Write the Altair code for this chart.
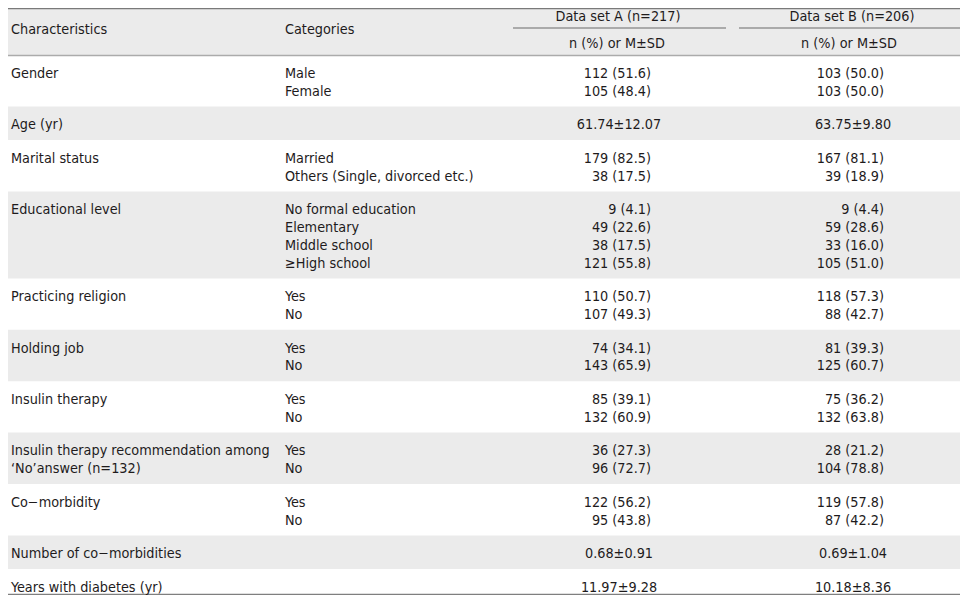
import altair as alt
import pandas as pd

# ---------------- data ----------------
characteristics = [
    ["Gender"],
    ["Age (yr)"],
    ["Marital status"],
    ["Educational level"],
    ["Practicing religion"],
    ["Holding job"],
    ["Insulin therapy"],
    ["Insulin therapy recommendation among", "\u00a0\u2018No\u2019answer (n=132)"],
    ["Co\u2212morbidity"],
    ["Number of co\u2212morbidities"],
    ["Years with diabetes (yr)"],
]
categories = [
    ["Male", "Female"],
    [],
    ["Married", "Others (Single, divorced etc.)"],
    ["No formal education", "Elementary", "Middle school", "\u2265High school"],
    ["Yes", "No"],
    ["Yes", "No"],
    ["Yes", "No"],
    ["Yes", "No"],
    ["Yes", "No"],
    [],
    [],
]
set_a = [
    ["112 (51.6)", "105 (48.4)"],
    ["61.74\u00b112.07"],
    ["179 (82.5)", "38 (17.5)"],
    ["9 (4.1)", "49 (22.6)", "38 (17.5)", "121 (55.8)"],
    ["110 (50.7)", "107 (49.3)"],
    ["74 (34.1)", "143 (65.9)"],
    ["85 (39.1)", "132 (60.9)"],
    ["36 (27.3)", "96 (72.7)"],
    ["122 (56.2)", "95 (43.8)"],
    ["0.68\u00b10.91"],
    ["11.97\u00b19.28"],
]
set_b = [
    ["103 (50.0)", "103 (50.0)"],
    ["63.75\u00b19.80"],
    ["167 (81.1)", "39 (18.9)"],
    ["9 (4.4)", "59 (28.6)", "33 (16.0)", "105 (51.0)"],
    ["118 (57.3)", "88 (42.7)"],
    ["81 (39.3)", "125 (60.7)"],
    ["75 (36.2)", "132 (63.8)"],
    ["28 (21.2)", "104 (78.8)"],
    ["119 (57.8)", "87 (42.2)"],
    ["0.69\u00b11.04"],
    ["10.18\u00b18.36"],
]
header_cols = ["Characteristics", "Categories"]
group_titles = ["Data set A (n=217)", "Data set B (n=206)"]
sub_title = "n (%) or M\u00b1SD"

# ---------------- layout (table geometry in page pixels) ----------------
FONT = "DejaVu Sans Condensed"
FS = 14.3
COLOR = "#1e1b1c"
LINE_H = 17.8
ROW_PAD = 15.8
HEADER_H = 55
X_CHAR, X_CAT = 11, 285
X_A_RIGHT, X_B_RIGHT = 651, 884
X_A_MID, X_B_MID = 619, 853
CAP_SHIFT = 5.8    # cap-centre of a line -> top of its text block (baseline="top")
FIRST_LINE = 17.6  # row top -> cap-centre of its first line

bands, left_txt, right_txt, mid_txt = [], [], [], []


def cell(rows, x, cap_center_first, lines):
    if lines:
        rows.append({"x": x, "y": cap_center_first - CAP_SHIFT, "t": "\n".join(lines)})


def pad_counts(vals):
    # align "n (pct)" entries on the digits, as the typeset table does
    def pct_len(t):
        return len(t.split("(")[1].rstrip(")"))
    m = max(pct_len(t) for t in vals)
    return [t + "\u2007" * (m - pct_len(t)) for t in vals]


top = HEADER_H
for i in range(len(characteristics)):
    n = max(len(characteristics[i]), len(categories[i]), len(set_a[i]))
    h = LINE_H * n + ROW_PAD
    if i % 2 == 1:
        bands.append({"x0": 0, "x1": 968, "y0": top, "y1": top + h})
    y1 = top + FIRST_LINE
    cell(left_txt, X_CHAR, y1, characteristics[i])
    cell(left_txt, X_CAT, y1, categories[i])
    for vals, xr, xm in ((set_a[i], X_A_RIGHT, X_A_MID), (set_b[i], X_B_RIGHT, X_B_MID)):
        if any("\u00b1" in t for t in vals):
            cell(mid_txt, xm, y1, vals)
        else:
            cell(right_txt, xr, y1, pad_counts(vals))
    top += h
table_bottom = top

bands.append({"x0": 0, "x1": 968, "y0": 0, "y1": HEADER_H})
cell(left_txt, X_CHAR, 28.3, [header_cols[0]])
cell(left_txt, X_CAT, 28.3, [header_cols[1]])
cell(mid_txt, 618, 16, [group_titles[0]])
cell(mid_txt, 852, 16, [group_titles[1]])
cell(mid_txt, 617, 42.8, [sub_title])
cell(mid_txt, 849, 42.8, [sub_title])

rules = [
    {"x0": 0, "x1": 968, "y": 8.6, "c": "#7a7a7a", "w": 1.4},
    {"x0": 513, "x1": 726, "y": 28, "c": "#6a6a6a", "w": 1.2},
    {"x0": 739, "x1": 968, "y": 28, "c": "#6a6a6a", "w": 1.2},
    {"x0": 0, "x1": 968, "y": HEADER_H + 0.5, "c": "#ababab", "w": 1.6},
    {"x0": 0, "x1": 968, "y": min(table_bottom, 594.4), "c": "#7f7f7f", "w": 1.4},
]

# page px -> chart px: the page has an 8px margin
xs = alt.Scale(domain=[8, 960], range=[0, 952], nice=False, zero=False)
ys = alt.Scale(domain=[8, 595], range=[0, 587], nice=False, zero=False)

band_layer = alt.Chart(pd.DataFrame(bands)).mark_rect(color="#ebebeb").encode(
    x=alt.X("x0:Q", scale=xs, axis=None), x2="x1:Q",
    y=alt.Y("y0:Q", scale=ys, axis=None), y2="y1:Q",
)

rule_layer = alt.Chart(pd.DataFrame(rules)).mark_rule().encode(
    x=alt.X("x0:Q", scale=xs, axis=None), x2="x1:Q",
    y=alt.Y("y:Q", scale=ys, axis=None),
    color=alt.Color("c:N", scale=None),
    strokeWidth=alt.StrokeWidth("w:Q", scale=None),
)


def text_layer(rows, align):
    return alt.Chart(pd.DataFrame(rows)).mark_text(
        align=align, baseline="top", font=FONT, fontSize=FS, color=COLOR,
        lineBreak="\n", lineHeight=LINE_H,
    ).encode(
        x=alt.X("x:Q", scale=xs, axis=None),
        y=alt.Y("y:Q", scale=ys, axis=None),
        text="t:N",
    )


chart = alt.layer(
    band_layer,
    rule_layer,
    text_layer(left_txt, "left"),
    text_layer(right_txt, "right"),
    text_layer(mid_txt, "center"),
).properties(
    width=952, height=587, padding=0,
    autosize=alt.AutoSizeParams(type="none"),
).configure_view(stroke=None)

chart.save("out.html", embed_options={"renderer": "svg", "actions": False})
